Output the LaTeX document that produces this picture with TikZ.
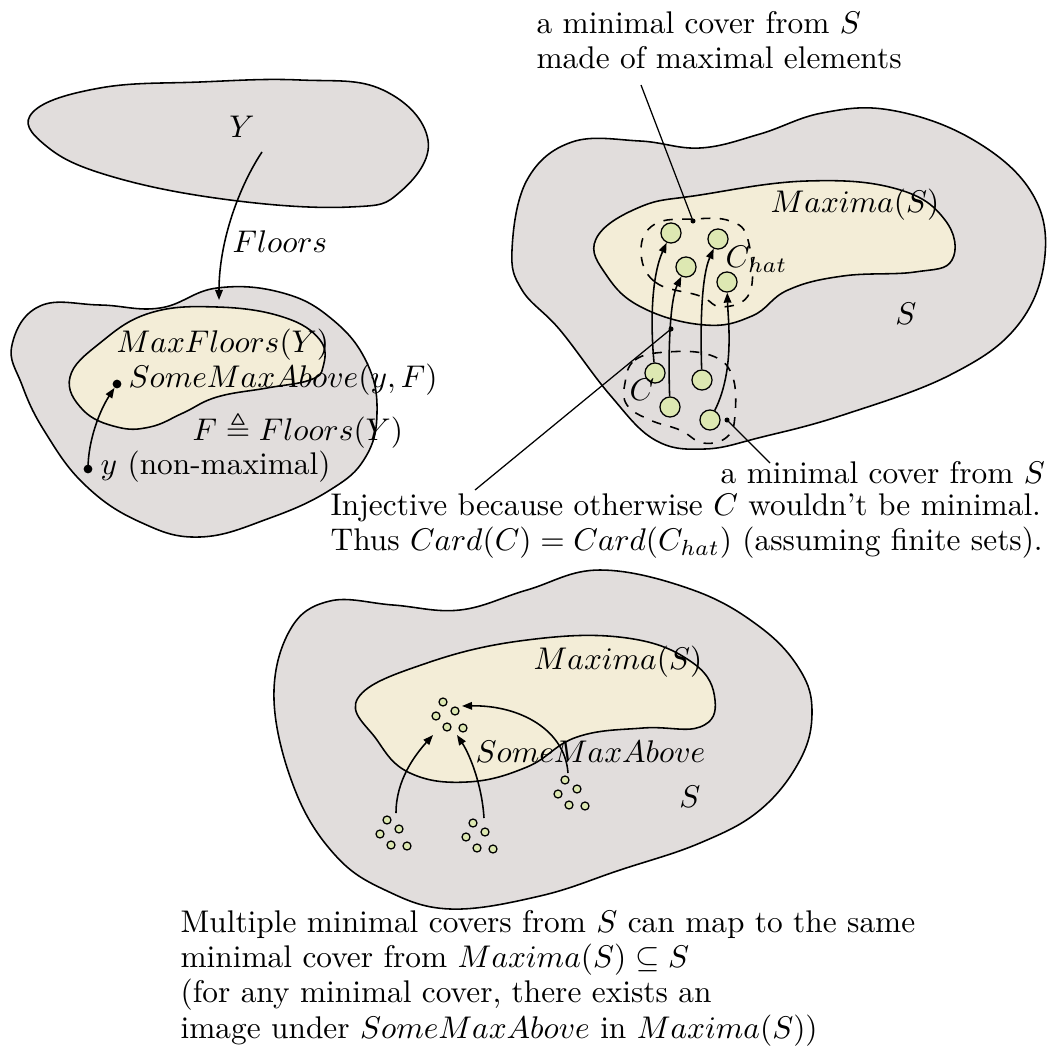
\documentclass[tikz,border=0pt]{standalone}
\usepackage{amsmath,amssymb}
\usetikzlibrary{arrows.meta}
\definecolor{setgray}{RGB}{225,221,220}
\definecolor{maxyellow}{RGB}{243,237,215}
\definecolor{elemgreen}{RGB}{221,232,178}

\begin{document}
\begin{tikzpicture}[x=0.319pt, y=-0.319pt,
  baseset/.style={draw, line width=0.5pt, fill=setgray},
  maxset/.style={draw, line width=0.5pt, fill=maxyellow},
  coverline/.style={line width=0.5pt, dashed},
  elem/.style={circle, draw, line width=0.4pt, fill=elemgreen, minimum size=6.4pt, inner sep=0pt},
  speck/.style={circle, draw, line width=0.4pt, fill=elemgreen, minimum size=2.55pt, inner sep=0pt},
  mapto/.style={line width=0.5pt, -{Triangle[length=3.2pt,width=2.4pt]}},
  callout/.style={line width=0.4pt},
  lbl/.style={inner sep=0pt, anchor=west},
  para/.style={inner sep=0pt, anchor=north west, align=left, font=\fontsize{10pt}{11.2pt}\selectfont}]
\useasboundingbox (0,0) rectangle (1049,1049);

% left: Y and its floors
\draw[baseset] plot[smooth cycle, tension=0.7] coordinates {(33,112) (100,88) (200,82) (300,80) (383,90) (428,140) (400,192) (350,207) (230,200) (110,176) (45,145)};
\draw[baseset] plot[smooth cycle, tension=0.7] coordinates {(12,345) (40,306) (100,305) (160,308) (217,288) (283,293) (333,320) (367,363) (377,413) (365,458) (330,490) (270,518) (200,537) (140,522) (85,485) (45,432) (22,385)};
\draw[maxset] plot[smooth cycle, tension=0.7] coordinates {(70,377) (100,343) (150,313) (217,307) (283,317) (320,340) (323,367) (310,380) (267,388) (217,397) (183,413) (150,427) (117,427) (83,410)};
\coordinate (ysrc) at (262,152);
\coordinate (ftgt) at (219,300);
\coordinate (smax) at (117,384);
\coordinate (ypt) at (88,469);
\draw[mapto] (ysrc) .. controls (240,185) and (219,240) .. (ftgt);
\draw[mapto, shorten >=1.5pt] (ypt) .. controls (88,440) and (100,410) .. (smax);
\fill (smax) circle (1.4pt);
\fill (ypt) circle (1.4pt);
\node (ylabel) at (242,127) {$Y$};
\node[lbl] (floorslbl) at (232,242) {$Floors$};
\node[lbl] (maxfloors) at (116,345) {$MaxFloors(Y)$};
\node[lbl] (smaxlbl) at (128,380) {$SomeMaxAbove(y,F)$};
\node[lbl] (fdef) at (192,430) {$F \triangleq Floors(Y)$};
\node[lbl] (ylbl) at (100,467) {$y$ (non-maximal)};

% right: C and C_hat
\draw[baseset] plot[smooth cycle, tension=0.65] coordinates {(512,250) (527,180) (572,142) (640,141) (700,148) (760,134) (822,113) (890,110) (970,138) (1030,190) (1045,255) (1018,325) (950,375) (843,415) (762,437) (705,449) (655,440) (610,395) (560,330) (522,290)};
\draw[maxset] plot[smooth cycle, tension=0.7] coordinates {(596,239) (640,207) (700,195) (807,181) (897,189) (945,220) (952,260) (915,272) (843,276) (788,290) (752,316) (705,325) (643,308) (607,276)};
\draw[coverline] plot[smooth cycle, tension=0.7] coordinates {(641,250) (655,282) (700,296) (722,307) (750,292) (748,240) (730,221) (693,219) (655,224)};
\draw[coverline] plot[smooth cycle, tension=0.7] coordinates {(625,383) (635,360) (667,352) (710,355) (732,375) (735,415) (727,437) (703,443) (680,430) (650,420) (627,405)};
\node[elem] (chat1) at (671,233) {};
\node[elem] (chat2) at (718,239) {};
\node[elem] (chat3) at (686,267) {};
\node[elem] (chat4) at (727,282) {};
\node[elem] (cov1) at (655,373) {};
\node[elem] (cov2) at (702,380) {};
\node[elem] (cov3) at (670,407) {};
\node[elem] (cov4) at (710,420) {};
\draw[mapto] (cov1) .. controls (650,320) and (652,275) .. (chat1);
\draw[mapto] (cov3) .. controls (668,350) and (670,300) .. (chat3);
\draw[mapto] (cov2) .. controls (700,320) and (702,275) .. (chat2);
\draw[mapto] (cov4) .. controls (735,370) and (728,320) .. (chat4);
\coordinate (hatdot) at (693,221);
\coordinate (injdot) at (671,329);
\coordinate (covdot) at (727,420);
\coordinate (topend) at (641,85);
\coordinate (injend) at (475,490);
\coordinate (covend) at (770,463);
\draw[callout] (hatdot) -- (topend);
\draw[callout] (injdot) -- (injend);
\draw[callout] (covdot) -- (covend);
\fill (hatdot) circle (0.8pt);
\fill (injdot) circle (0.8pt);
\fill (covdot) circle (0.8pt);
\node[lbl] (maxlbl) at (770,205) {$Maxima(S)$};
\node (slbl) at (906,314) {$S$};
\node[lbl] (chatlbl) at (725,259) {$C_{hat}$};
\node (clbl) at (642,390) {$C$};
\node[para] (toptxt) at (536,11) {a minimal cover from $S$\\made of maximal elements};
\node[lbl] (covtxt) at (720,473) {a minimal cover from $S$};
\node[para] (injtxt) at (330,493) {Injective because otherwise $C$ wouldn't be minimal.\\Thus $Card(C) = Card(C_{hat})$ (assuming finite sets).};

% bottom: several covers, one image
\draw[baseset] plot[smooth cycle, tension=0.65] coordinates {(274,700) (290,630) (330,601) (393,605) (460,610) (527,590) (600,570) (693,590) (760,627) (800,670) (812,712) (800,760) (760,810) (700,843) (620,870) (540,896) (450,909) (385,890) (335,855) (295,790)};
\draw[maxset] plot[smooth cycle, tension=0.7] coordinates {(358,698) (427,663) (527,640) (627,638) (693,663) (715,700) (700,727) (643,728) (577,737) (527,767) (467,782) (410,773) (377,740)};
\foreach \cx/\cy/\nm in {443/702/img, 387/820/ca, 473/823/cb, 565/780/cc}
  \foreach \dx/\dy [count=\i] in {0/0, 12/9, -7/14, 4/25, 20/26}
    \node[speck] (\nm\i) at ({\cx+\dx},{\cy+\dy}) {};
\coordinate (srca) at (396,813);
\coordinate (tgta) at (433,735);
\coordinate (srcb) at (484,818);
\coordinate (tgtb) at (457,735);
\coordinate (srcc) at (568,773);
\coordinate (tgtc) at (462,706);
\draw[mapto] (srca) .. controls (396,780) and (415,755) .. (tgta);
\draw[mapto] (srcb) .. controls (482,785) and (470,755) .. (tgtb);
\draw[mapto] (srcc) .. controls (565,730) and (520,705) .. (tgtc);
\node[lbl] (maxlbl2) at (533,662) {$Maxima(S)$};
\node[lbl] (smalbl) at (475,752) {$SomeMaxAbove$};
\node (slbl2) at (690,797) {$S$};
\node[para] (multtxt) at (180,910) {Multiple minimal covers from $S$ can map to the same\\minimal cover from $Maxima(S) \subseteq S$\\(for any minimal cover, there exists an\\image under $SomeMaxAbove$ in $Maxima(S)$)};
\end{tikzpicture}
\end{document}
